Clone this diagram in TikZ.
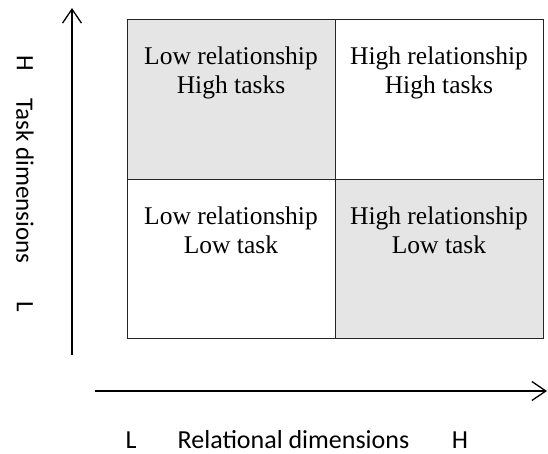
\documentclass[tikz,border=0pt]{standalone}
\usepackage{fontspec}
\setmainfont{Liberation Serif}
\newfontfamily\axisfont{Carlito}
\usetikzlibrary{arrows.meta}
\tikzset{
  cell text/.style={anchor=base, align=center, inner sep=0pt,
    font=\fontsize{25.5}{28.5}\selectfont},
  axis label/.style={inner sep=0pt, anchor=base, font=\axisfont\fontsize{26}{30}\selectfont},
  side label/.style={inner sep=0pt, rotate=-90, font=\axisfont\fontsize{25}{30}\selectfont},
  axis/.style={line width=1.3pt, -{Straight Barb[length=14pt,width=19pt,line width=1.3pt]}},
}
\begin{document}
\begin{tikzpicture}[x=1pt,y=1pt]
\useasboundingbox (0,0) rectangle (548,454);
\coordinate (A) at (127,116);
\coordinate (B) at (543,116);
\coordinate (C) at (543,435);
\coordinate (D) at (127,435);
\coordinate (M) at (335,275);

% shaded quadrants
\fill[black!10] (A|-M) rectangle (D-|M);
\fill[black!10] (M) rectangle (B);

\draw[line width=0.9pt, black!85] (A) rectangle (C);
\draw[line width=0.9pt, black!85] (A|-M) -- (C|-M) (M|-A) -- (M|-C);

% base is the last line
\node[cell text] (lh) at (231,360.5) {Low relationship\\High tasks};
\node[cell text] (hh) at (439,360.5) {High relationship\\High tasks};
\node[cell text] (ll) at (231,200.5) {Low relationship\\Low task};
\node[cell text] (hl) at (439,200.5) {High relationship\\Low task};

% axes
\coordinate (y0) at (72,99);
\coordinate (y1) at (72,446);
\coordinate (x0) at (95,63);
\coordinate (x1) at (547,63);
\draw[axis] (y0)--(y1);
\draw[axis] (x0)--(x1);

\node[side label] (th) at (25,390.5) {H};
\node[side label] (task) at (25,273) {Task dimensions};
\node[side label] (tl) at (25,147) {L};

\node[axis label] (rl) at (131,5) {L};
\node[axis label] (rel) at (293.5,5) {Relational dimensions};
\node[axis label] (rh) at (460,5) {H};
\end{tikzpicture}
\end{document}
